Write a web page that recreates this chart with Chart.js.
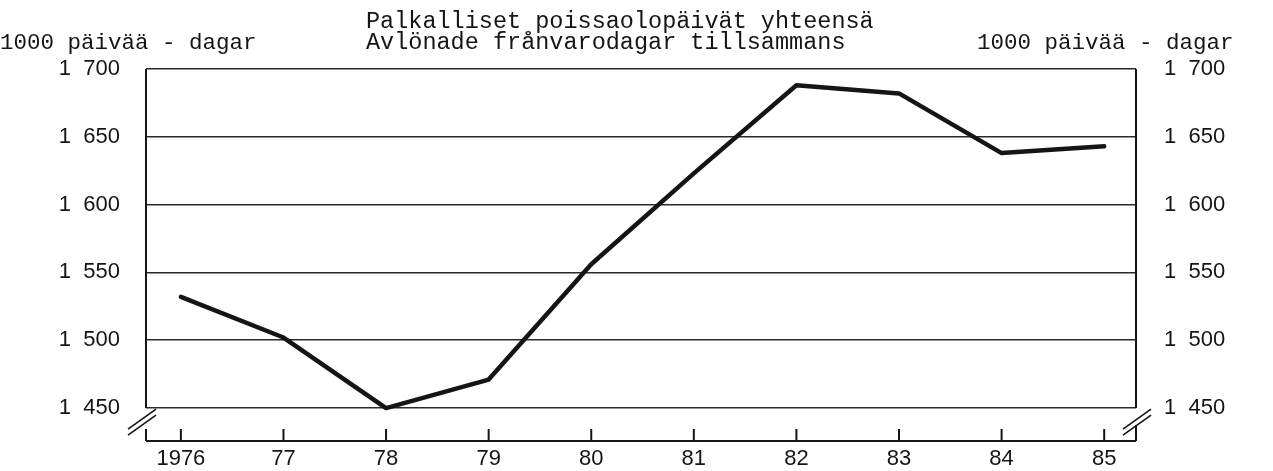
<!DOCTYPE html>
<html>
<head>
<meta charset="utf-8">
<script src="https://cdn.jsdelivr.net/npm/chart.js@4.4.1/dist/chart.umd.min.js"></script>
<style>
  html, body { margin: 0; padding: 0; background: #fff; }
  #wrap { width: 1273px; height: 471px; position: relative; }
</style>
</head>
<body>
<div id="wrap"><canvas id="absenceChart"></canvas></div>
<script>
// Data
const years = [1976, 1977, 1978, 1979, 1980, 1981, 1982, 1983, 1984, 1985];
const yearLabels = ['1976', '77', '78', '79', '80', '81', '82', '83', '84', '85'];
const absenceDays = [1532, 1502, 1450, 1471, 1556, 1623, 1688, 1682, 1638, 1643];
const yTicks = [1450, 1500, 1550, 1600, 1650, 1700];
const yTickLabels = ['1  450', '1  500', '1  550', '1  600', '1  650', '1  700'];
const titleLines = ['Palkalliset poissaolopäivät yhteensä', 'Avlönade frånvarodagar tillsammans'];
const unitLabel = '1000 päivää - dagar';

const ink = '#151515';
const tickFont = { family: '"Liberation Sans", Arial, sans-serif', size: 22 };
const monoFont = '23.5px "Liberation Mono", "Courier New", monospace';
const unitFont = '22.5px "Liberation Mono", "Courier New", monospace';

// Axes, break marks and headings drawn around the plot
const framePlugin = {
    id: 'frame',
    beforeDatasetsDraw(chart) {
        const ctx = chart.ctx;
        const area = chart.chartArea;
        const x = chart.scales.x;
        const yBase = chart.scales.y.getPixelForValue(yTicks[0]);
        ctx.save();
        ctx.strokeStyle = ink;
        ctx.lineWidth = 2;
        ctx.lineCap = 'butt';
        ctx.beginPath();
        // vertical axes down to the break
        ctx.moveTo(area.left, area.top); ctx.lineTo(area.left, yBase);
        ctx.moveTo(area.right, area.top); ctx.lineTo(area.right, yBase);
        // stubs below the break
        ctx.moveTo(area.left, area.bottom - 12); ctx.lineTo(area.left, area.bottom);
        ctx.moveTo(area.right, area.bottom - 16); ctx.lineTo(area.right, area.bottom);
        // time axis
        ctx.moveTo(area.left, area.bottom); ctx.lineTo(area.right, area.bottom);
        years.forEach(function(yr) {
            const px = x.getPixelForValue(yr);
            ctx.moveTo(px, area.bottom); ctx.lineTo(px, area.bottom - 12);
        });
        ctx.stroke();

        // break marks
        ctx.lineWidth = 1.6;
        function breakMark(cx, cy) {
            ctx.beginPath();
            [-3, 3].forEach(function(off) {
                ctx.moveTo(cx - 14, cy + off + 10);
                ctx.lineTo(cx + 14, cy + off - 10);
            });
            ctx.stroke();
        }
        breakMark(area.left - 4, yBase + 14);
        breakMark(area.right + 1, yBase + 14);
        ctx.restore();
    },
    afterDraw(chart) {
        const ctx = chart.ctx;
        ctx.save();
        ctx.fillStyle = ink;
        ctx.font = monoFont;
        ctx.textBaseline = 'alphabetic';
        ctx.textAlign = 'left';
        ctx.fillText(titleLines[0], 366, 28);
        ctx.fillText(titleLines[1], 366, 49);
        ctx.font = unitFont;
        ctx.fillText(unitLabel, 0, 49);
        ctx.fillText(unitLabel, 977, 49);
        ctx.restore();
    }
};

function noEdgePadding(scale) {
    scale.paddingTop = 0;
    scale.paddingBottom = 0;
}

document.addEventListener('DOMContentLoaded', function() {
    const ctx = document.getElementById('absenceChart').getContext('2d');
    const absenceChart = new Chart(ctx, {
        type: 'line',
        data: {
            datasets: [{
                label: 'Palkalliset poissaolopäivät',
                data: years.map(function(yr, i) { return { x: yr, y: absenceDays[i] }; }),
                borderColor: ink,
                borderWidth: 4.5,
                borderJoinStyle: 'round',
                borderCapStyle: 'round',
                pointRadius: 0,
                tension: 0,
                fill: false
            }]
        },
        options: {
            responsive: true,
            maintainAspectRatio: false,
            animation: false,
            layout: { padding: { top: 69, left: 0, right: 0, bottom: 0 } },
            plugins: {
                legend: { display: false },
                tooltip: { enabled: false }
            },
            scales: {
                x: {
                    type: 'linear',
                    min: 1975.66,
                    max: 1985.31,
                    afterBuildTicks: function(scale) {
                        scale.ticks = years.map(function(v) { return { value: v }; });
                    },
                    afterFit: function(scale) {
                        scale.height = 30;
                        scale.paddingLeft = 0;
                        scale.paddingRight = 0;
                    },
                    grid: { display: false, drawTicks: false },
                    border: { display: false },
                    ticks: {
                        autoSkip: false,
                        maxRotation: 0,
                        padding: 5,
                        color: ink,
                        font: tickFont,
                        callback: function(v) { return yearLabels[years.indexOf(v)]; }
                    }
                },
                y: {
                    position: 'left',
                    min: 1425.7,
                    max: 1700,
                    afterBuildTicks: function(scale) {
                        scale.ticks = yTicks.map(function(v) { return { value: v }; });
                    },
                    afterFit: function(scale) { scale.width = 146; noEdgePadding(scale); },
                    grid: { color: '#2a2a2a', lineWidth: 1.5, drawTicks: false },
                    border: { display: false },
                    ticks: {
                        padding: 26,
                        color: ink,
                        font: tickFont,
                        callback: function(v) { return yTickLabels[yTicks.indexOf(v)]; }
                    }
                },
                y2: {
                    position: 'right',
                    min: 1425.7,
                    max: 1700,
                    afterBuildTicks: function(scale) {
                        scale.ticks = yTicks.map(function(v) { return { value: v }; });
                    },
                    afterFit: function(scale) { scale.width = 137; noEdgePadding(scale); },
                    grid: { display: false, drawTicks: false },
                    border: { display: false },
                    ticks: {
                        padding: 28,
                        color: ink,
                        font: tickFont,
                        callback: function(v) { return yTickLabels[yTicks.indexOf(v)]; }
                    }
                }
            }
        },
        plugins: [framePlugin]
    });
});
</script>
</body>
</html>
